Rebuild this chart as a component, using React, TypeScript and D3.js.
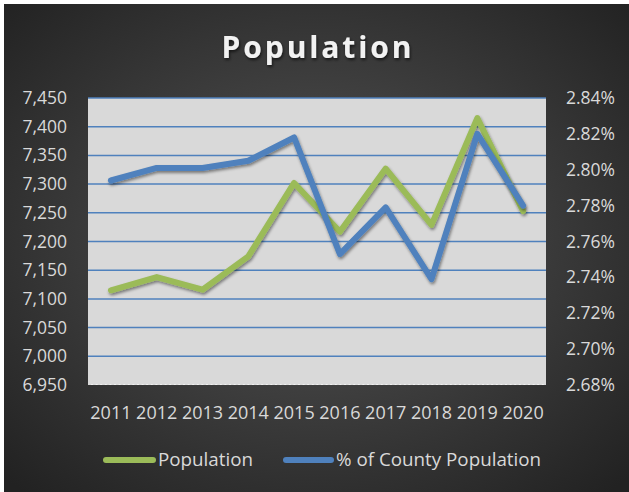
import React from "react";
import * as d3 from "d3";

const years = ["2011", "2012", "2013", "2014", "2015", "2016", "2017", "2018", "2019", "2020"];
const population = [7115, 7138, 7116, 7174, 7302, 7217, 7327, 7229, 7415, 7253];
const countyPct = [2.794, 2.801, 2.801, 2.805, 2.818, 2.753, 2.779, 2.739, 2.82, 2.78];
const leftTicks = [6950, 7000, 7050, 7100, 7150, 7200, 7250, 7300, 7350, 7400, 7450];
const rightTicks = [2.68, 2.7, 2.72, 2.74, 2.76, 2.78, 2.8, 2.82, 2.84];

const W = 629, H = 492;
const plot = { left: 88, right: 546, top: 98, bottom: 385 };
const GREEN = "#9BBB59";
const BLUE = "#4F81BD";
const FONT = "'Open Sans', 'DejaVu Sans', sans-serif";

export default function App() {
  const x = d3.scaleBand<string>().domain(years).range([plot.left, plot.right]);
  const yL = d3.scaleLinear().domain([6950, 7450]).range([plot.bottom, plot.top]);
  const yR = d3.scaleLinear().domain([2.68, 2.84]).range([plot.bottom, plot.top]);
  const cx = (d: string) => (x(d) ?? 0) + x.bandwidth() / 2;

  const popLine = d3.line<number>().x((_, i) => cx(years[i])).y((d) => yL(d))(population) ?? "";
  const pctLine = d3.line<number>().x((_, i) => cx(years[i])).y((d) => yR(d))(countyPct) ?? "";
  const fmt = d3.format(",");

  const minorTicks = d3.range(plot.left + 3, plot.right, 4.6);

  return (
    <svg width={W} height={H} style={{ position: "absolute", left: 0, top: 0, display: "block" }}>
      <defs>
        <radialGradient id="bg" cx="50%" cy="48%" r="70%">
          <stop offset="0%" stopColor="#555555" />
          <stop offset="100%" stopColor="#222222" />
        </radialGradient>
        <filter id="sh" x="-10%" y="-10%" width="120%" height="130%">
          <feDropShadow dx="1" dy="2" stdDeviation="1.5" floodColor="#000" floodOpacity="0.45" />
        </filter>
        <filter id="tsh" x="-10%" y="-20%" width="120%" height="150%">
          <feDropShadow dx="1" dy="2" stdDeviation="1.5" floodColor="#000" floodOpacity="0.6" />
        </filter>
      </defs>
      <rect x={0} y={0} width={W} height={H} fill="#ffffff" />
      <rect x={4} y={4} width={W - 4} height={H - 4} fill="url(#bg)" />

      <text
        x={318}
        y={58}
        textAnchor="middle"
        fill="#f2f2f2"
        fontFamily={FONT}
        fontWeight={700}
        fontSize={30}
        letterSpacing={2.9}
        filter="url(#tsh)"
      >
        Population
      </text>

      <rect x={plot.left} y={plot.top} width={plot.right - plot.left} height={plot.bottom - plot.top} fill="#D9D9D9" />
      {leftTicks.filter((t) => t > 6950).map((t) => (
        <line key={t} x1={plot.left} x2={plot.right} y1={yL(t)} y2={yL(t)} stroke={BLUE} strokeWidth={1.5} />
      ))}
      {minorTicks.map((mx, i) => (
        <line key={i} x1={mx} x2={mx + 2} y1={plot.bottom - 0.5} y2={plot.bottom - 0.5} stroke="#f0f0f0" strokeWidth={1} />
      ))}

      <path d={popLine} fill="none" stroke={GREEN} strokeWidth={6} strokeLinejoin="round" strokeLinecap="round" filter="url(#sh)" />
      <path d={pctLine} fill="none" stroke={BLUE} strokeWidth={6} strokeLinejoin="round" strokeLinecap="round" filter="url(#sh)" />

      {leftTicks.map((t) => (
        <text key={t} x={67} y={yL(t) + 6} textAnchor="end" fill="#d9d9d9" fontFamily={FONT} fontSize={17.5}>
          {fmt(t)}
        </text>
      ))}
      {rightTicks.map((t) => (
        <text key={t} x={566} y={yR(t) + 6} textAnchor="start" fill="#d9d9d9" fontFamily={FONT} fontSize={17.5}>
          {t.toFixed(2) + "%"}
        </text>
      ))}
      {years.map((yr) => (
        <text key={yr} x={cx(yr)} y={419} textAnchor="middle" fill="#d9d9d9" fontFamily={FONT} fontSize={18}>
          {yr}
        </text>
      ))}

      <line x1={106} x2={153} y1={460} y2={460} stroke={GREEN} strokeWidth={6} strokeLinecap="round" />
      <text x={158} y={466} fill="#d9d9d9" fontFamily={FONT} fontSize={18.8}>Population</text>
      <line x1={286} x2={331} y1={460} y2={460} stroke={BLUE} strokeWidth={6} strokeLinecap="round" />
      <text x={336} y={466} fill="#d9d9d9" fontFamily={FONT} fontSize={18.8}>% of County Population</text>
    </svg>
  );
}
